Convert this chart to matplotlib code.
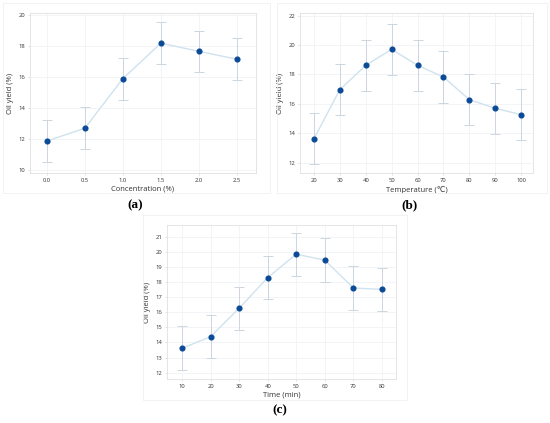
import matplotlib
matplotlib.use("Agg")
import matplotlib.pyplot as plt
from matplotlib.patches import Rectangle

# (a) concentration
conc = [0.0, 0.5, 1.0, 1.5, 2.0, 2.5]
yield_conc = [11.87, 12.69, 15.9, 18.2, 17.67, 17.16]
err_conc = [1.36, 1.35, 1.36, 1.36, 1.34, 1.35]

# (b) temperature
temp = [20, 30, 40, 50, 60, 70, 80, 90, 100]
yield_temp = [13.63, 16.97, 18.62, 19.71, 18.62, 17.83, 16.29, 15.7, 15.27]
err_temp = [1.73, 1.73, 1.72, 1.74, 1.73, 1.74, 1.73, 1.73, 1.73]

# (c) time
time_min = [10, 20, 30, 40, 50, 60, 70, 80]
yield_time = [13.61, 14.38, 16.26, 18.29, 19.84, 19.44, 17.6, 17.51]
err_time = [1.45, 1.44, 1.44, 1.44, 1.43, 1.44, 1.44, 1.44]

plt.rcParams['font.family'] = ['Open Sans', 'DejaVu Sans']

fig = plt.figure(figsize=(5.5, 4.23), dpi=100)

# faint frames around each sub-figure
for (x0, y0, x1, y1) in [(3, 3, 270, 193), (277, 3, 547, 193), (143, 215, 407, 400)]:
    fig.patches.append(Rectangle((x0 / 550, 1 - y1 / 423), (x1 - x0) / 550, (y1 - y0) / 423,
                                 transform=fig.transFigure, fill=False,
                                 edgecolor='#f0f0f0', linewidth=0.6))


def panel(rect, x, y, e, xlim, ylim, yticks, xticks, xticklabels, xlabel, tag, tagpos):
    ax = fig.add_axes(rect)
    ax.errorbar(x, y, yerr=e, fmt='none', ecolor='#ccd6e0', elinewidth=0.7,
                capsize=3.5, capthick=0.7, zorder=2)
    ax.plot(x, y, color='#cfe2ef', linewidth=1.0, zorder=3)
    ax.plot(x, y, 'o', color='#0b4a97', markersize=3.4, zorder=4)
    ax.set_xlim(xlim)
    ax.set_ylim(ylim)
    ax.set_xticks(xticks)
    ax.set_xticklabels(xticklabels)
    ax.set_yticks(yticks)
    ax.grid(True, color='#f1f3f6', linewidth=0.6)
    ax.set_axisbelow(True)
    for s in ax.spines.values():
        s.set_color('#e0e0e0')
        s.set_linewidth(0.6)
    ax.tick_params(labelsize=4.2, length=1.5, width=0.4, pad=2,
                   colors='#cccccc', labelcolor='#333333')
    ax.set_xlabel(xlabel, fontsize=5.5, color='#333333', labelpad=2)
    ax.set_ylabel('Oil yield (%)', fontsize=5.5, color='#333333', labelpad=3)
    fig.text(tagpos[0] / 550, 1 - tagpos[1] / 423, tag, ha='center', va='center',
             fontsize=9.5, fontweight='bold', family='Liberation Serif')
    return ax


panel([30 / 550, 1 - 173 / 423, 226 / 550, 160 / 423], conc, yield_conc, err_conc,
      (-0.22, 2.75), (9.8, 20.15), [10, 12, 14, 16, 18, 20],
      conc, ['0.0', '0.5', '1.0', '1.5', '2.0', '2.5'],
      'Concentration (%)', '(a)', (135, 205))

panel([300 / 550, 1 - 173 / 423, 233 / 550, 160 / 423], temp, yield_temp, err_temp,
      (14.6, 104.6), (11.3, 22.18), [12, 14, 16, 18, 20, 22],
      temp, [str(t) for t in temp],
      'Temperature (\u2103)', '(b)', (410, 205))

panel([167 / 550, 1 - 379 / 423, 229 / 550, 154 / 423], time_min, yield_time, err_time,
      (4.75, 84.9), (11.58, 21.77), list(range(12, 22)),
      time_min, [str(t) for t in time_min],
      'Time (min)', '(c)', (280, 410))

fig.savefig('out.png', dpi=100)
